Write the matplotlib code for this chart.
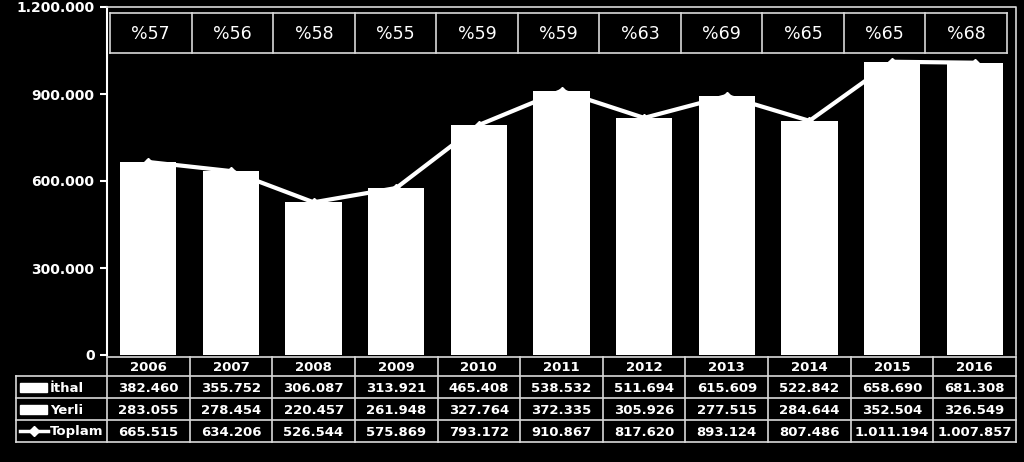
import numpy as np
import matplotlib
matplotlib.use("Agg")
import matplotlib.pyplot as plt
from matplotlib.lines import Line2D
from matplotlib.patches import Rectangle

years = ["2006", "2007", "2008", "2009", "2010", "2011", "2012", "2013", "2014", "2015", "2016"]
ithal = [382460, 355752, 306087, 313921, 465408, 538532, 511694, 615609, 522842, 658690, 681308]
yerli = [283055, 278454, 220457, 261948, 327764, 372335, 305926, 277515, 284644, 352504, 326549]
toplam = [665515, 634206, 526544, 575869, 793172, 910867, 817620, 893124, 807486, 1011194, 1007857]
oran = [57, 56, 58, 55, 59, 59, 63, 69, 65, 65, 68]
yticks = [0, 300000, 600000, 900000, 1200000]


def fmt(v):
    return f"{v:,}".replace(",", ".")


W, H = 1024, 462
fig = plt.figure(figsize=(W / 100, H / 100), dpi=100, facecolor="black")

# plot area in pixels
L, R, T, B = 107, 1016, 7, 355
ax = fig.add_axes([L / W, 1 - B / H, (R - L) / W, (B - T) / H])
ax.set_facecolor("black")

x = np.arange(len(years))
ax.bar(x, ithal, width=0.68, color="white", zorder=2)
ax.bar(x, yerli, width=0.68, bottom=ithal, color="white", zorder=2)
ax.plot(x, toplam, color="white", lw=3, marker="D", ms=4.5, zorder=3)

ax.set_xlim(-0.5, len(years) - 0.5)
ax.set_ylim(0, 1200000)
ax.set_yticks(yticks)
ax.set_yticklabels([fmt(v) for v in yticks], color="white", fontsize=10, fontweight="bold")
ax.tick_params(axis="y", colors="white", length=5, width=1.5, pad=4)
ax.set_xticks([])
for s in ["top", "right", "bottom"]:
    ax.spines[s].set_visible(False)
ax.spines["left"].set_color("white")
ax.spines["left"].set_linewidth(1.5)

# overlay in pixel coordinates
ov = fig.add_axes([0, 0, 1, 1])
ov.set_xlim(0, W)
ov.set_ylim(H, 0)
ov.axis("off")
ov.patch.set_alpha(0)

lc = "#d9d9d9"
n = len(years)
colw = (R - L) / n
cx = [L + (i + 0.5) * colw for i in range(n)]

# outer border of plot area
ov.plot([L, R, R], [T, T, B], color=lc, lw=1.2)

# percent table
pt, pb, pl, pr = 13, 53, 110, 1007
ov.plot([pl, pr], [pt, pt], color=lc, lw=1.2)
ov.plot([pl, pr], [pb, pb], color=lc, lw=1.2)
for i in range(n + 1):
    xx = pl + i * (pr - pl) / n
    ov.plot([xx, xx], [pt, pb], color=lc, lw=1.2)
for i, p in enumerate(oran):
    xx = pl + (i + 0.5) * (pr - pl) / n
    ov.text(xx, (pt + pb) / 2 + 1, f"%{p}", color="white", fontsize=12.5,
            ha="center", va="center")

# data table
rows_y = [357, 376, 398, 420, 442]
tl = 16
for y in rows_y:
    ov.plot([tl if y != rows_y[0] else L, R], [y, y], color=lc, lw=1.2)
ov.plot([tl, tl], [rows_y[1], rows_y[-1]], color=lc, lw=1.2)
for i in range(n + 1):
    xx = L + i * colw
    ov.plot([xx, xx], [rows_y[0], rows_y[-1]], color=lc, lw=1.2)

tk = dict(color="white", fontsize=9.5, fontweight="bold", ha="center", va="center")
for i in range(n):
    ov.text(cx[i], (rows_y[0] + rows_y[1]) / 2 + 1, years[i], **tk)
    ov.text(cx[i], (rows_y[1] + rows_y[2]) / 2 + 1, fmt(ithal[i]), **tk)
    ov.text(cx[i], (rows_y[2] + rows_y[3]) / 2 + 1, fmt(yerli[i]), **tk)
    ov.text(cx[i], (rows_y[3] + rows_y[4]) / 2 + 1, fmt(toplam[i]), **tk)

labels = ["İthal", "Yerli", "Toplam"]
for k, lab in enumerate(labels):
    yc = (rows_y[k + 1] + rows_y[k + 2]) / 2
    if k < 2:
        ov.add_patch(Rectangle((20, yc - 4), 27, 9, color="white"))
    else:
        ov.add_line(Line2D([20, 48], [yc, yc], color="white", lw=2.5))
        ov.plot([34], [yc], marker="D", ms=5, color="white")
    ov.text(50, yc + 1, lab, color="white", fontsize=9.5, fontweight="bold",
            ha="left", va="center")

fig.savefig("out.png", dpi=100, facecolor="black")
